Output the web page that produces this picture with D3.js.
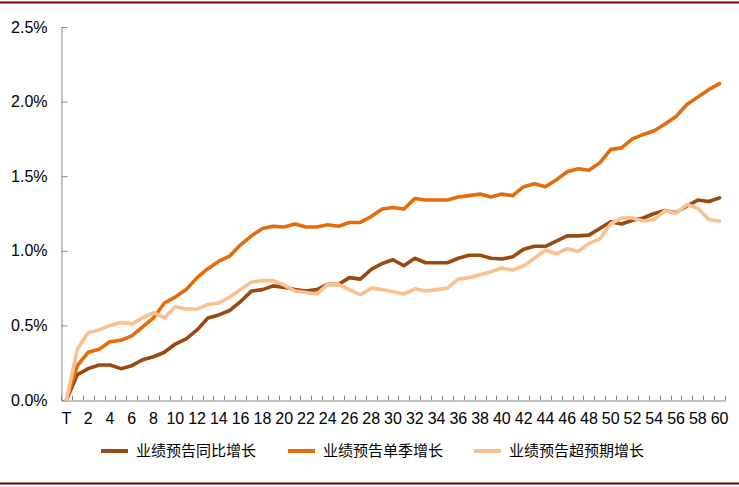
<!DOCTYPE html>
<html><head><meta charset="utf-8">
<script src="https://cdn.jsdelivr.net/npm/d3@7"></script>
<style>
html,body{margin:0;padding:0;background:#fff;}
svg{display:block;}
</style></head>
<body>
<svg id="chart" width="739" height="487"></svg>
<script>
const categories = ["T"].concat(d3.range(1, 61).map(String));
const yTicks = [0, 0.005, 0.01, 0.015, 0.02, 0.025];
const seriesNames = ["业绩预告同比增长", "业绩预告单季增长", "业绩预告超预期增长"];
const yoyGrowth = [0, 0.17, 0.21, 0.235, 0.235, 0.21, 0.23, 0.27, 0.29, 0.32, 0.375,
  0.41, 0.47, 0.55, 0.57, 0.60, 0.66, 0.73, 0.74, 0.765, 0.755,
  0.74, 0.73, 0.74, 0.775, 0.775, 0.82, 0.81, 0.875, 0.915, 0.94,
  0.90, 0.95, 0.92, 0.92, 0.92, 0.95, 0.97, 0.97, 0.95, 0.945,
  0.96, 1.01, 1.03, 1.03, 1.065, 1.10, 1.10, 1.105, 1.15, 1.195,
  1.18, 1.205, 1.22, 1.25, 1.27, 1.255, 1.30, 1.34, 1.33, 1.355];
const quarterGrowth = [0, 0.23, 0.32, 0.34, 0.39, 0.40, 0.43, 0.49, 0.55, 0.65, 0.69,
  0.74, 0.82, 0.88, 0.93, 0.965, 1.04, 1.10, 1.15, 1.165, 1.16,
  1.18, 1.16, 1.16, 1.175, 1.165, 1.19, 1.19, 1.23, 1.28, 1.29,
  1.28, 1.35, 1.34, 1.34, 1.34, 1.36, 1.37, 1.38, 1.36, 1.38,
  1.37, 1.43, 1.45, 1.43, 1.475, 1.53, 1.55, 1.54, 1.59, 1.68,
  1.69, 1.75, 1.78, 1.805, 1.85, 1.90, 1.98, 2.03, 2.08, 2.12];
const surpriseGrowth = [0, 0.34, 0.45, 0.47, 0.50, 0.52, 0.51, 0.55, 0.585, 0.55, 0.625,
  0.61, 0.61, 0.64, 0.65, 0.69, 0.74, 0.79, 0.80, 0.80, 0.77,
  0.73, 0.72, 0.71, 0.775, 0.775, 0.74, 0.705, 0.75, 0.74, 0.725,
  0.71, 0.745, 0.73, 0.74, 0.75, 0.81, 0.82, 0.84, 0.86, 0.885,
  0.87, 0.90, 0.95, 1.005, 0.98, 1.015, 0.995, 1.05, 1.08, 1.18,
  1.22, 1.22, 1.20, 1.21, 1.27, 1.25, 1.31, 1.285, 1.21, 1.20];
const colors = ["#9A4A0C", "#E46C0A", "#FAC090"];
const seriesValues = [yoyGrowth, quarterGrowth, surpriseGrowth];

const svg = d3.select("#chart");
const plotLeft = 61, plotRight = 725, plotTop = 27, plotBottom = 400;

// frame lines
svg.append("line").attr("x1", 0).attr("x2", 739).attr("y1", 2.5).attr("y2", 2.5)
  .attr("stroke", "#700000").attr("stroke-width", 2);
svg.append("line").attr("x1", 0).attr("x2", 739).attr("y1", 483.5).attr("y2", 483.5)
  .attr("stroke", "#700000").attr("stroke-width", 2);

const x = d3.scaleBand().domain(categories).range([plotLeft, plotRight]);
const y = d3.scaleLinear().domain([0, 0.025]).range([plotBottom, plotTop]);

// y axis
const yAxis = d3.axisLeft(y).tickValues(yTicks).tickSizeInner(-6).tickSizeOuter(0)
  .tickPadding(14).tickFormat(d3.format(".1%"));
const gy = svg.append("g").attr("transform", `translate(${plotLeft + 0.5},0)`).call(yAxis);
gy.selectAll("path,line").attr("stroke", "#868686");
gy.selectAll("text").attr("font-family", "'Liberation Sans', Arial, sans-serif")
  .attr("font-size", 16).attr("fill", "#000");

// x axis
const xAxis = d3.axisBottom(x).tickSize(0).tickPadding(12)
  .tickFormat((d, i) => (i % 2 === 0 ? d : ""));
const gx = svg.append("g").attr("transform", `translate(0,${plotBottom + 0.5})`).call(xAxis);
gx.select("path").attr("stroke", "#868686");
gx.selectAll("text").attr("font-family", "'Liberation Sans', Arial, sans-serif")
  .attr("font-size", 16).attr("fill", "#000");
// category boundary ticks (inward)
const boundaries = categories.map((c) => x(c)).concat([plotRight]);
gx.selectAll(".bt").data(boundaries).enter().append("line")
  .attr("x1", (d) => Math.round(d) + 0.5).attr("x2", (d) => Math.round(d) + 0.5)
  .attr("y1", -5).attr("y2", 0).attr("stroke", "#868686");

// lines
const line = d3.line()
  .x((d, i) => x(categories[i]) + x.bandwidth() / 2)
  .y((d) => y(d / 100));
seriesValues.forEach((vals, k) => {
  svg.append("path").datum(vals).attr("d", line)
    .attr("fill", "none").attr("stroke", colors[k]).attr("stroke-width", 3.6)
    .attr("stroke-linejoin", "round").attr("stroke-linecap", "round");
});

// legend
const legendX = [101, 288, 474];
const lg = svg.append("g");
seriesNames.forEach((name, k) => {
  lg.append("line").attr("x1", legendX[k]).attr("x2", legendX[k] + 27)
    .attr("y1", 451).attr("y2", 451).attr("stroke", colors[k]).attr("stroke-width", 4);
  lg.append("text").attr("x", legendX[k] + 35).attr("y", 451).attr("dy", "0.35em")
    .attr("font-family", "'Noto Sans CJK SC', sans-serif").attr("font-size", 15)
    .attr("fill", "#000").text(name);
});
</script>
</body></html>
